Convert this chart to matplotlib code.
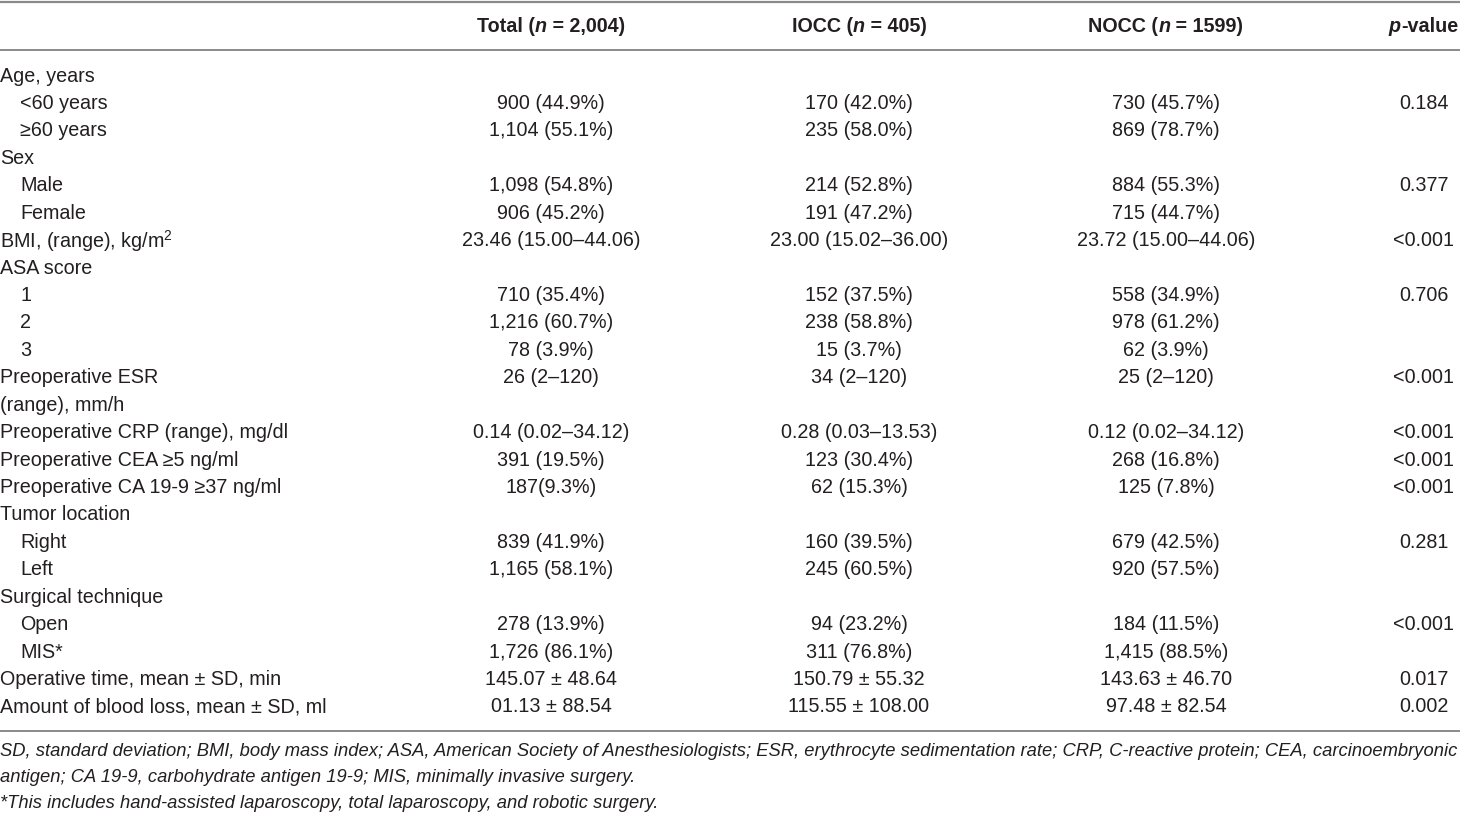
import matplotlib
matplotlib.use("Agg")
import matplotlib.pyplot as plt
from matplotlib import font_manager

# Table content
header_labels = ["Total (n = 2,004)", "IOCC (n = 405)", "NOCC (n = 1599)", "p-value"]

row_labels = [
    "Age, years", "<60 years", "\u226560 years", "Sex", "Male", "Female",
    "BMI, (range), kg/m$^2$", "ASA score", "1", "2", "3",
    "Preoperative ESR", "(range), mm/h",
    "Preoperative CRP (range), mg/dl", "Preoperative CEA \u22655 ng/ml",
    "Preoperative CA 19-9 \u226537 ng/ml", "Tumor location", "Right", "Left",
    "Surgical technique", "Open", "MIS*",
    "Operative time, mean \u00b1 SD, min", "Amount of blood loss, mean \u00b1 SD, ml",
]
indented = [1, 2, 4, 5, 8, 9, 10, 17, 18, 20, 21]

total_col = [
    "", "900 (44.9%)", "1,104 (55.1%)", "", "1,098 (54.8%)", "906 (45.2%)",
    "23.46 (15.00\u201344.06)", "", "710 (35.4%)", "1,216 (60.7%)", "78 (3.9%)",
    "26 (2\u2013120)", "", "0.14 (0.02\u201334.12)", "391 (19.5%)", "187(9.3%)",
    "", "839 (41.9%)", "1,165 (58.1%)", "", "278 (13.9%)", "1,726 (86.1%)",
    "145.07 \u00b1 48.64", "01.13 \u00b1 88.54",
]
iocc_col = [
    "", "170 (42.0%)", "235 (58.0%)", "", "214 (52.8%)", "191 (47.2%)",
    "23.00 (15.02\u201336.00)", "", "152 (37.5%)", "238 (58.8%)", "15 (3.7%)",
    "34 (2\u2013120)", "", "0.28 (0.03\u201313.53)", "123 (30.4%)", "62 (15.3%)",
    "", "160 (39.5%)", "245 (60.5%)", "", "94 (23.2%)", "311 (76.8%)",
    "150.79 \u00b1 55.32", "115.55 \u00b1 108.00",
]
nocc_col = [
    "", "730 (45.7%)", "869 (78.7%)", "", "884 (55.3%)", "715 (44.7%)",
    "23.72 (15.00\u201344.06)", "", "558 (34.9%)", "978 (61.2%)", "62 (3.9%)",
    "25 (2\u2013120)", "", "0.12 (0.02\u201334.12)", "268 (16.8%)", "125 (7.8%)",
    "", "679 (42.5%)", "920 (57.5%)", "", "184 (11.5%)", "1,415 (88.5%)",
    "143.63 \u00b1 46.70", "97.48 \u00b1 82.54",
]
p_col = [
    "", "0.184", "", "", "0.377", "", "<0.001", "", "0.706", "", "",
    "<0.001", "", "<0.001", "<0.001", "<0.001", "", "0.281", "", "",
    "<0.001", "", "0.017", "0.002",
]

footnotes = [
    "SD, standard deviation; BMI, body mass index; ASA, American Society of Anesthesiologists; "
    "ESR, erythrocyte sedimentation rate; CRP, C-reactive protein; CEA, carcinoembryonic",
    "antigen; CA 19-9, carbohydrate antigen 19-9; MIS, minimally invasive surgery.",
    "*This includes hand-assisted laparoscopy, total laparoscopy, and robotic surgery.",
]

# Font choice
names = {f.name for f in font_manager.fontManager.ttflist}
family = "Liberation Sans Narrow" if "Liberation Sans Narrow" in names else "Liberation Sans"
plt.rcParams["font.family"] = [family, "DejaVu Sans"]
plt.rcParams["mathtext.fontset"] = "custom"
plt.rcParams["mathtext.rm"] = family
plt.rcParams["mathtext.it"] = family + ":italic"
plt.rcParams["mathtext.bf"] = family + ":bold"

TXT = "#231f20"
LINE = "#8a8a8a"
FS = 14.2

W, H = 1460, 814
fig = plt.figure(figsize=(W / 100, H / 100), dpi=100)
ax = fig.add_axes([0, 0, 1, 1])
ax.set_xlim(0, W)
ax.set_ylim(H, 0)
ax.axis("off")

col_x = [551, 859, 1166, 1424]

# rules
for y, lw in [(2, 1.6), (50, 1.4), (731, 1.4)]:
    ax.plot([0, W], [y, y], color=LINE, lw=lw, solid_capstyle="butt")

# header with italic n, built from pieces
renderer = fig.canvas.get_renderer()


def draw_pieces(pieces, cx, y, ha="center"):
    widths = []
    texts = []
    for s, style in pieces:
        t = ax.text(0, y, s, fontsize=FS, fontweight="bold", fontstyle=style,
                    color=TXT, va="center", ha="left")
        bb = t.get_window_extent(renderer=renderer)
        widths.append(bb.width)
        texts.append(t)
    total = sum(widths)
    x0 = cx - total / 2 if ha == "center" else cx - total
    for t, w in zip(texts, widths):
        t.set_x(x0)
        x0 += w


hy = 26
for lab, cx in zip(header_labels[:3], col_x[:3]):
    pre, rest = lab.split("n", 1) if not lab.startswith("NOCC") else ("NOCC (", lab[6:][1:])
    if lab.startswith("NOCC"):
        pre, rest = "NOCC (", " = 1599)"
    draw_pieces([(pre, "normal"), ("n", "italic"), (rest, "normal")], cx, hy)
draw_pieces([("p", "italic"), ("-value", "normal")], 1458, hy, ha="right")

# body
y0, dy = 76, 27.43
for i, lab in enumerate(row_labels):
    y = y0 + i * dy
    x = 20 if i in indented else 0
    ax.text(x, y, lab, fontsize=FS, color=TXT, va="center", ha="left")
    for col, cx in zip([total_col, iocc_col, nocc_col, p_col], col_x):
        if col[i]:
            ax.text(cx, y, col[i], fontsize=FS, color=TXT, va="center", ha="center")

for j, note in enumerate(footnotes):
    ax.text(0, 751 + j * 26, note, fontsize=FS * 0.93, color=TXT, fontstyle="italic",
            va="center", ha="left")

fig.savefig("out.png", dpi=100)
